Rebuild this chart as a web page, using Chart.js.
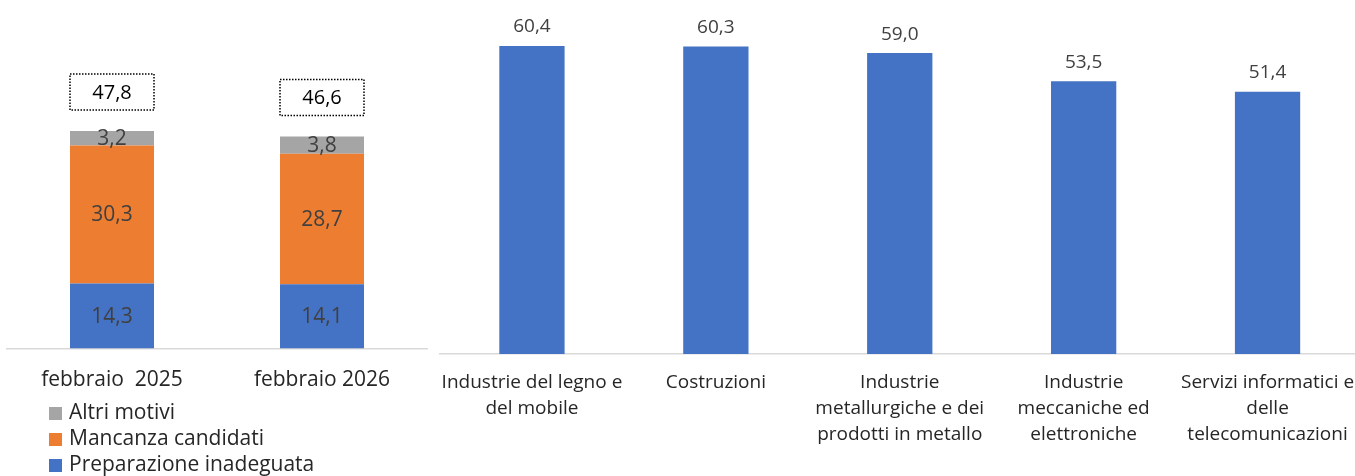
<!DOCTYPE html>
<html>
<head>
<meta charset="utf-8">
<script src="https://cdn.jsdelivr.net/npm/chart.js@4"></script>
<style>
  html, body { margin: 0; padding: 0; background: #fff; overflow: hidden; }
  body { width: 1355px; height: 476px; position: relative; font-family: "Open Sans", sans-serif; }
  #leftBox { position: absolute; left: 0; top: 0; width: 434px; height: 476px; }
  #rightBox { position: absolute; left: 430px; top: 0; width: 935px; height: 476px; }
  #legend { position: absolute; left: 49px; top: 398px; font-size: 21px; color: #262626; }
  #legend div { height: 26px; line-height: 26px; white-space: nowrap; }
  #legend span { display: inline-block; width: 13px; height: 13px; margin-right: 7px; vertical-align: -1px; }
</style>
</head>
<body>
<div id="leftBox"><canvas id="leftChart" width="434" height="476"></canvas></div>
<div id="rightBox"><canvas id="rightChart" width="935" height="476"></canvas></div>
<div id="legend"></div>
<script>
// left chart: reasons for hiring difficulty
const periods = ["febbraio  2025", "febbraio 2026"];
const preparazione = [14.3, 14.1];
const mancanza = [30.3, 28.7];
const altri = [3.2, 3.8];
const totali = [47.8, 46.6];

// right chart: sectors
const settori = [
    ["Industrie del legno e", "del mobile"],
    ["Costruzioni"],
    ["Industrie", "metallurgiche e dei", "prodotti in metallo"],
    ["Industrie", "meccaniche ed", "elettroniche"],
    ["Servizi informatici e", "delle", "telecomunicazioni"]
];
const quote = [60.4, 60.3, 59.0, 53.5, 51.4];

const BLUE = "#4472C4", ORANGE = "#ED7D31", GREY = "#A5A5A5";

function fmt(v) {
    return v.toFixed(1).replace(".", ",");
}

// labels inside stacked segments + dotted total boxes
const stackLabels = {
    id: "stackLabels",
    afterDatasetsDraw(chart) {
        const ctx = chart.ctx;
        ctx.save();
        ctx.font = "21px 'Open Sans'";
        ctx.fillStyle = "#404040";
        ctx.textAlign = "center";
        ctx.textBaseline = "middle";
        chart.data.datasets.forEach((ds, i) => {
            chart.getDatasetMeta(i).data.forEach((el, j) => {
                ctx.fillText(fmt(ds.data[j]), el.x, (el.y + el.base) / 2 + 1);
            });
        });
        const yScale = chart.scales.y;
        const meta = chart.getDatasetMeta(0);
        totali.forEach((t, j) => {
            const x = meta.data[j].x;
            const cy = yScale.getPixelForValue(t) - 39;
            ctx.setLineDash([1.5, 1.5]);
            ctx.lineWidth = 1.5;
            ctx.strokeStyle = "#000";
            ctx.strokeRect(x - 42, cy - 18, 84, 36);
            ctx.setLineDash([]);
            ctx.fillStyle = "#000";
            ctx.font = "20px 'Open Sans'";
            ctx.fillText(fmt(t), x, cy + 1);
        });
        ctx.restore();
    }
};

// value labels above plain bars
const topLabels = {
    id: "topLabels",
    afterDatasetsDraw(chart) {
        const ctx = chart.ctx;
        ctx.save();
        ctx.font = "19px 'Open Sans'";
        ctx.fillStyle = "#404040";
        ctx.textAlign = "center";
        ctx.textBaseline = "middle";
        const ds = chart.data.datasets[0];
        chart.getDatasetMeta(0).data.forEach((el, j) => {
            ctx.fillText(fmt(ds.data[j]), el.x, el.y - 19);
        });
        ctx.restore();
    }
};

new Chart(document.getElementById("leftChart"), {
    type: "bar",
    data: {
        labels: periods,
        datasets: [
            { label: "Preparazione inadeguata", data: preparazione, backgroundColor: BLUE },
            { label: "Mancanza candidati", data: mancanza, backgroundColor: ORANGE },
            { label: "Altri motivi", data: altri, backgroundColor: GREY }
        ]
    },
    options: {
        responsive: false,
        animation: false,
        layout: { padding: { left: 7, right: 7, top: 30, bottom: 0 } },
        datasets: { bar: { categoryPercentage: 1, barPercentage: 0.4, borderWidth: 0 } },
        scales: {
            x: {
                stacked: true,
                grid: { display: false, drawTicks: false },
                border: { color: "#D9D9D9", width: 1.5 },
                ticks: { color: "#262626", padding: 19, font: { family: "Open Sans", size: 21, lineHeight: 1.2 } },
                afterFit(scale) {
                    scale.height = 127.5;
                    scale.paddingLeft = 0;
                    scale.paddingRight = 0;
                }
            },
            y: { stacked: true, display: false, min: 0, max: 70 }
        },
        plugins: { legend: { display: false }, tooltip: { enabled: false } }
    },
    plugins: [stackLabels]
});

new Chart(document.getElementById("rightChart"), {
    type: "bar",
    data: {
        labels: settori,
        datasets: [{ data: quote, backgroundColor: BLUE }]
    },
    options: {
        responsive: false,
        animation: false,
        layout: { padding: { left: 10, right: 5.5, top: 7.2, bottom: 0 } },
        datasets: { bar: { categoryPercentage: 1, barPercentage: 0.355, borderWidth: 0 } },
        scales: {
            x: {
                grid: { display: false, drawTicks: false },
                border: { color: "#D9D9D9", width: 1.5 },
                ticks: { color: "#262626", padding: 16, maxRotation: 0, autoSkip: false,
                         font: { family: "Open Sans", size: 19, lineHeight: "26px" } },
                afterFit(scale) {
                    // keep the wide edge labels from shrinking the plot
                    scale.height = 122;
                    scale.paddingLeft = 0;
                    scale.paddingRight = 0;
                }
            },
            y: { display: false, min: 0, max: 68 }
        },
        plugins: { legend: { display: false }, tooltip: { enabled: false } }
    },
    plugins: [topLabels]
});

// legend, top item = top of stack
const legendItems = [["Altri motivi", GREY], ["Mancanza candidati", ORANGE], ["Preparazione inadeguata", BLUE]];
document.getElementById("legend").innerHTML = legendItems
    .map(([t, c]) => `<div><span style="background:${c}"></span>${t}</div>`)
    .join("");
</script>
</body>
</html>
